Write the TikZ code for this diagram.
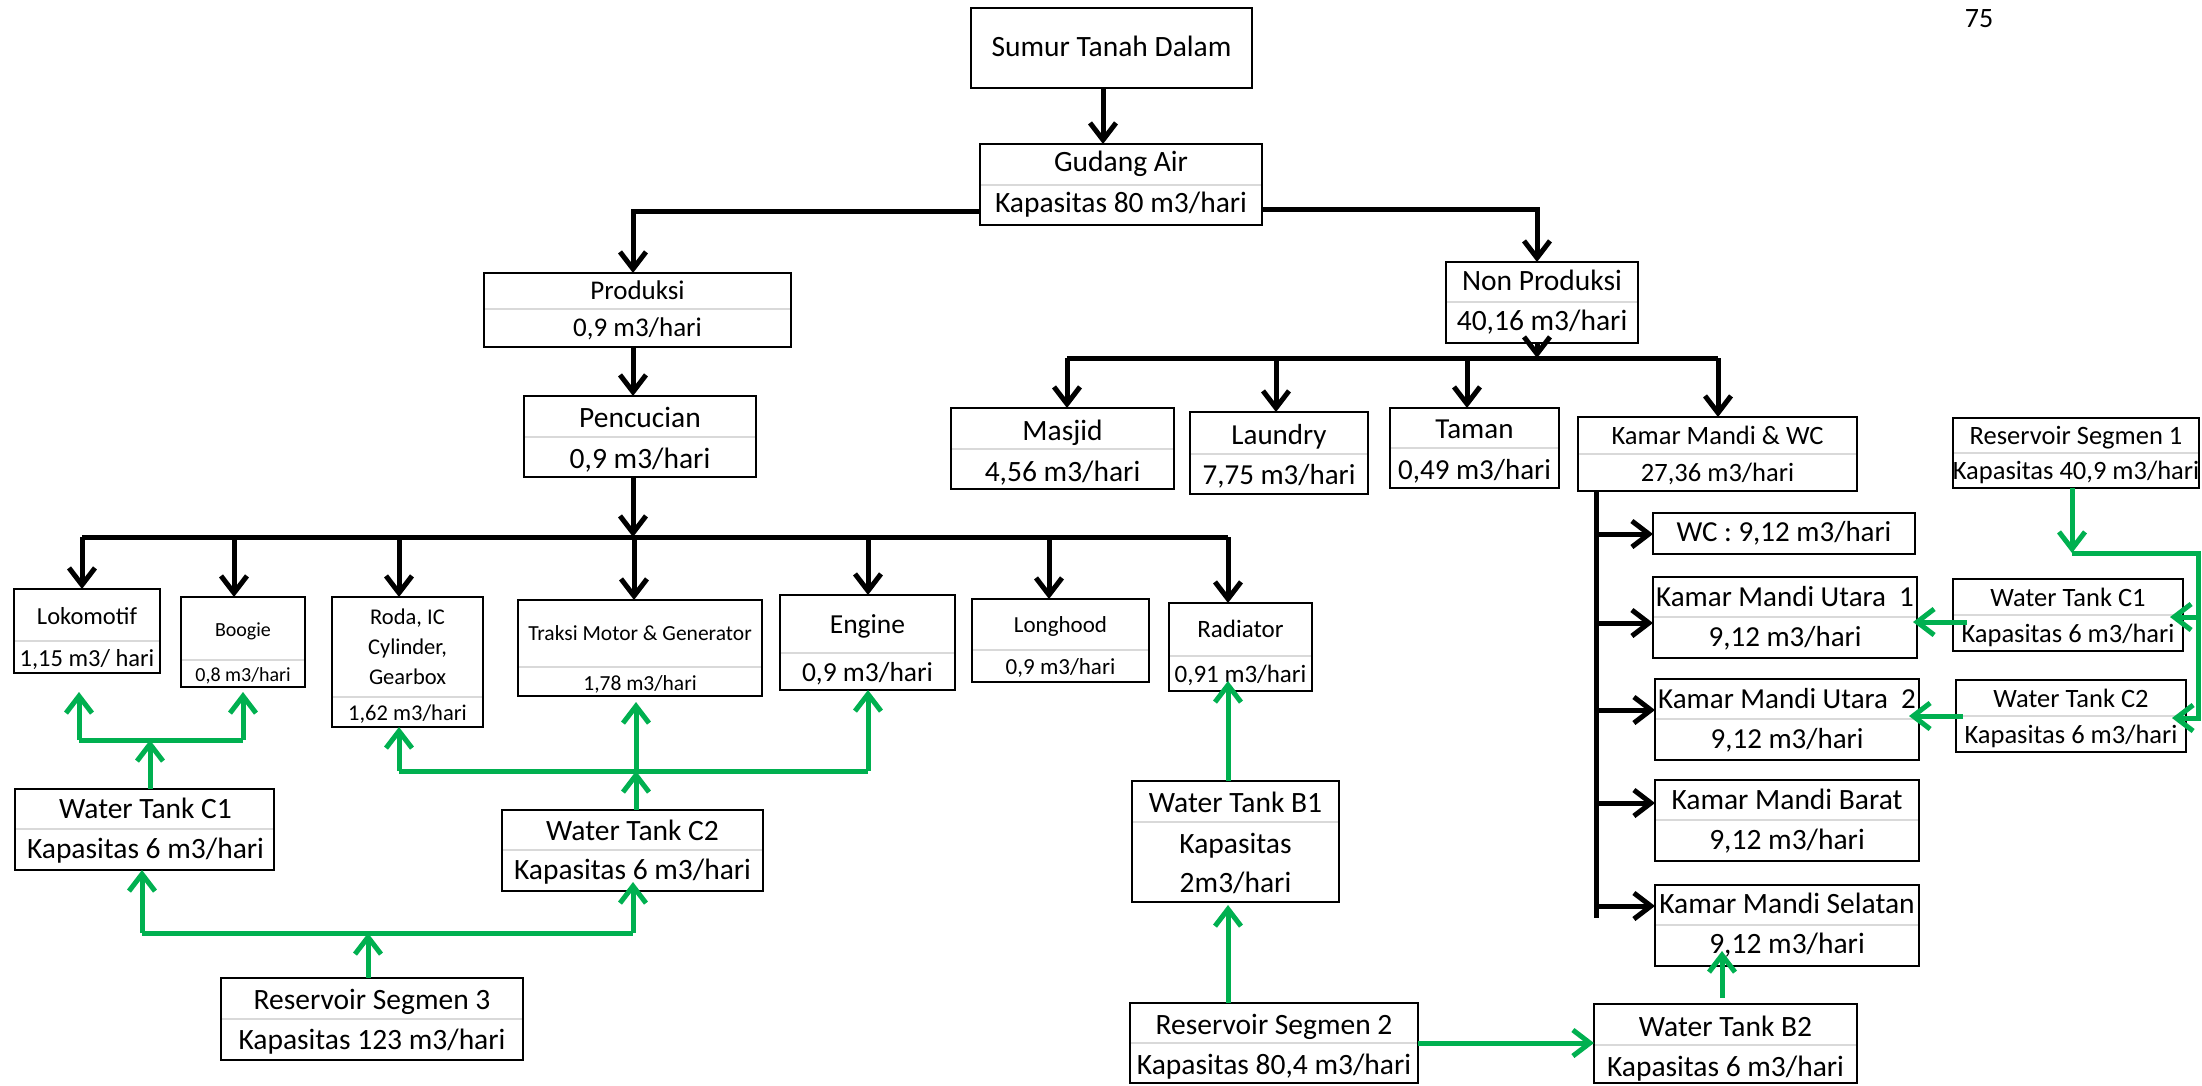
\documentclass[tikz,border=0pt]{standalone}
\usepackage{fontspec}
\setmainfont{Carlito}
\usetikzlibrary{arrows.meta}
\definecolor{grn}{RGB}{0,176,80}
\definecolor{divgray}{RGB}{217,217,217}
\tikzset{
 box/.style={draw=black, line width=2.8pt, fill=white, inner sep=0pt, outer sep=0pt},
 div/.style={draw=divgray, line width=2.6pt},
 txt/.style={anchor=base, inner sep=0pt, outer sep=0pt},
 ln/.style={draw=black, line width=5pt},
 arr/.style={ln, -{Straight Barb[length=17pt,width=26pt]}},
 gln/.style={draw=grn, line width=5pt},
 garr/.style={gln, -{Straight Barb[length=17pt,width=26pt]}},
}
\newcommand\bx[6]{%
 \node[box, minimum width={#4pt-#2pt}, minimum height={#5pt-#3pt}] (#1) at ({(#2+#4)/2},{(#3+#5)/2}) {};
 \ifx\relax#6\relax\else\draw[div] ({#2+1.4},#6) -- ({#4-1.4},#6);\fi}
\newcommand\tx[5]{\node[txt, font=\fontsize{#4pt}{#4pt}\selectfont] (#1) at (#2,{#3+0.3*#4}) {#5};}
\begin{document}
\begin{tikzpicture}[x=1pt,y=-1pt]
\useasboundingbox (0,0) rectangle (2202,1085);
\fill[white] (0,0) rectangle (2202,1085);
% boxes
\bx{sumur}{971}{8}{1252}{88}{}
\bx{gudang}{980}{144}{1262}{225}{185}
\bx{produksi}{484}{273}{791}{347}{309}
\bx{pencucian}{524}{396}{756}{477}{437}
\bx{nonprod}{1446}{262}{1638}{343}{302}
\bx{masjid}{951}{408}{1174}{489}{449}
\bx{laundry}{1190}{412}{1368}{494}{454}
\bx{taman}{1390}{408}{1559}{488}{448}
\bx{kmwc}{1578}{417}{1857}{491}{454}
\bx{rs1}{1953}{418}{2199}{488}{453}
\bx{wc}{1653}{513}{1915}{554}{}
\bx{kmu1}{1653}{577}{1917}{658}{617}
\bx{kmu2}{1655}{679}{1919}{760}{719}
\bx{kmbarat}{1655}{780}{1919}{861}{820}
\bx{kmselatan}{1655}{885}{1919}{966}{925}
\bx{wtc1r}{1953}{579}{2183}{651}{615}
\bx{wtc2r}{1956}{680}{2186}{752}{716}
\bx{loko}{14}{589}{160}{673}{641}
\bx{boogie}{181}{597}{305}{687}{660}
\bx{roda}{332}{597}{483}{727}{697}
\bx{traksi}{518}{600}{762}{696}{667}
\bx{engine}{780}{595}{955}{690}{653}
\bx{longhood}{972}{599}{1149}{682}{650}
\bx{radiator}{1169}{603}{1312}{691}{656}
\bx{wtc1l}{15}{789}{274}{870}{829}
\bx{wtc2l}{502}{810}{763}{891}{850}
\bx{rs3}{221}{978}{523}{1060}{1019}
\bx{wtb1}{1132}{781}{1339}{902}{822}
\bx{rs2}{1130}{1003}{1418}{1083}{1043}
\bx{wtb2}{1594}{1004}{1857}{1083}{1045}
% texts
\tx{pagenum}{1979}{19}{28}{75}
\tx{sumur-t}{1111.5}{48}{29.5}{Sumur Tanah Dalam}
\tx{gudang-t}{1121}{163}{29.5}{Gudang Air}
\tx{gudang-b}{1121}{204}{29.5}{Kapasitas 80 m3/hari}
\tx{produksi-t}{637.5}{291}{27}{Produksi}
\tx{produksi-b}{637.5}{328}{27}{0,9 m3/hari}
\tx{pencucian-t}{640}{419}{29.5}{Pencucian}
\tx{pencucian-b}{640}{460}{29.5}{0,9 m3/hari}
\tx{nonprod-t}{1542}{282}{29.5}{Non Produksi}
\tx{nonprod-b}{1542}{322}{29.5}{40,16 m3/hari}
\tx{masjid-t}{1062.5}{432}{29.5}{Masjid}
\tx{masjid-b}{1062.5}{473}{29.5}{4,56 m3/hari}
\tx{laundry-t}{1279}{436}{29}{Laundry}
\tx{laundry-b}{1279}{476}{29}{7,75 m3/hari}
\tx{taman-t}{1474.5}{430}{29}{Taman}
\tx{taman-b}{1474.5}{471}{29}{0,49 m3/hari}
\tx{kmwc-t}{1717.5}{437}{26.5}{Kamar Mandi \& WC}
\tx{kmwc-b}{1717.5}{474}{26.5}{27,36 m3/hari}
\tx{rs1-t}{2076}{437}{26.5}{Reservoir Segmen 1}
\tx{rs1-b}{2076}{472}{26.5}{Kapasitas 40,9 m3/hari}
\tx{wc-t}{1784}{533}{29}{WC : 9,12 m3/hari}
\tx{kmu1-t}{1785}{598}{29}{Kamar Mandi Utara\ \ 1}
\tx{kmu1-b}{1785}{638}{29}{9,12 m3/hari}
\tx{kmu2-t}{1787}{700}{29}{Kamar Mandi Utara\ \ 2}
\tx{kmu2-b}{1787}{740}{29}{9,12 m3/hari}
\tx{kmbarat-t}{1787}{801}{29.5}{Kamar Mandi Barat}
\tx{kmbarat-b}{1787}{841}{29.5}{9,12 m3/hari}
\tx{kmselatan-t}{1787}{905}{29.5}{Kamar Mandi Selatan}
\tx{kmselatan-b}{1787}{945}{29.5}{9,12 m3/hari}
\tx{wtc1r-t}{2068}{599}{26.5}{Water Tank C1}
\tx{wtc1r-b}{2068}{635}{26.5}{Kapasitas 6 m3/hari}
\tx{wtc2r-t}{2071}{700}{26.5}{Water Tank C2}
\tx{wtc2r-b}{2071}{736}{26.5}{Kapasitas 6 m3/hari}
\tx{loko-t}{87}{617}{24.5}{Lokomotif}
\tx{loko-b}{87}{659}{24.5}{1,15 m3/ hari}
\tx{boogie-t}{243}{630}{20}{Boogie}
\tx{boogie-b}{243}{675}{20}{0,8 m3/hari}
\node[font=\fontsize{22.5pt}{30pt}\selectfont, align=center, inner sep=0pt] (roda-t) at (407.5,647) {Roda, IC\\Cylinder,\\Gearbox};
\tx{roda-b}{407.5}{713.5}{22.5}{1,62 m3/hari}
\tx{traksi-t}{640}{634}{21.5}{Traksi Motor \& Generator}
\tx{traksi-b}{640}{684}{21.5}{1,78 m3/hari}
\tx{engine-t}{867.5}{625}{27.5}{Engine}
\tx{engine-b}{867.5}{673}{27.5}{0,9 m3/hari}
\tx{longhood-t}{1060.5}{626}{23}{Longhood}
\tx{longhood-b}{1060.5}{668}{23}{0,9 m3/hari}
\tx{radiator-t}{1240.5}{630}{25}{Radiator}
\tx{radiator-b}{1240.5}{675}{25}{0,91 m3/hari}
\tx{wtc1l-t}{145.5}{810}{29.5}{Water Tank C1}
\tx{wtc1l-b}{145.5}{850}{29.5}{Kapasitas 6 m3/hari}
\tx{wtc2l-t}{632.5}{832}{29.5}{Water Tank C2}
\tx{wtc2l-b}{632.5}{871}{29.5}{Kapasitas 6 m3/hari}
\tx{rs3-t}{372}{1001}{29.5}{Reservoir Segmen 3}
\tx{rs3-b}{372}{1041}{29.5}{Kapasitas 123 m3/hari}
\tx{wtb1-t}{1235.5}{804}{29.5}{Water Tank B1}
\node[font=\fontsize{29.5pt}{39pt}\selectfont, align=center, inner sep=0pt] (wtb1-b) at (1235.5,863.5) {Kapasitas\\2m3/hari};
\tx{rs2-t}{1274}{1026}{29.5}{Reservoir Segmen 2}
\tx{rs2-b}{1274}{1066}{29.5}{Kapasitas 80,4 m3/hari}
\tx{wtb2-t}{1725.5}{1028}{29.5}{Water Tank B2}
\tx{wtb2-b}{1725.5}{1068}{29.5}{Kapasitas 6 m3/hari}
% black connectors
\coordinate (csg) at (1103,0);
\draw[arr] (sumur.south -| csg) -- (gudang.north -| csg);
\coordinate (jgl) at (633,211);
\draw[arr] (gudang.west |- jgl) -- (jgl) -- (jgl |- produksi.north);
\coordinate (jgr) at (1537,209);
\draw[arr] (gudang.east |- jgr) -- (jgr) -- (jgr |- nonprod.north);
\draw[arr] (produksi.south -| jgl) -- (pencucian.north -| jgl);
\coordinate (jp) at (633,537);
\draw[arr] (pencucian.south -| jp) -- (jp);
\coordinate (bl) at (82,537);
\coordinate (br) at (1228,537);
\draw[ln] (bl) -- (br);
\coordinate (bbo) at (234,537);
\coordinate (brd) at (399,537);
\coordinate (btr) at (634,537);
\coordinate (ben) at (868,537);
\coordinate (blh) at (1049,537);
\draw[arr] (bl) -- (bl |- loko.north);
\draw[arr] (bbo) -- (bbo |- boogie.north);
\draw[arr] (brd) -- (brd |- roda.north);
\draw[arr] (btr) -- (btr |- traksi.north);
\draw[arr] (ben) -- (ben |- engine.north);
\draw[arr] (blh) -- (blh |- longhood.north);
\draw[arr] (br) -- (br |- radiator.north);
\coordinate (jn) at (1537,358);
\draw[arr] (nonprod.south -| jn) -- (jn);
\coordinate (nl) at (1067,358);
\coordinate (nr) at (1718,358);
\coordinate (nla) at (1276,358);
\coordinate (nta) at (1467,358);
\draw[ln] (nl) -- (nr);
\draw[arr] (nl) -- (nl |- masjid.north);
\draw[arr] (nla) -- (nla |- laundry.north);
\draw[arr] (nta) -- (nta |- taman.north);
\draw[arr] (nr) -- (nr |- kmwc.north);
\coordinate (kt) at (1596,918);
\draw[ln] (kmwc.south -| kt) -- (kt);
\coordinate (k0) at (1596,534);
\coordinate (k1) at (1596,623);
\coordinate (k2) at (1596,710);
\coordinate (k3) at (1596,803);
\coordinate (k4) at (1596,906);
\draw[arr] (k0) -- (k0 -| wc.west);
\draw[arr] (k1) -- (k1 -| kmu1.west);
\draw[arr] (k2) -- (k2 -| kmu2.west);
\draw[arr] (k3) -- (k3 -| kmbarat.west);
\draw[arr] (k4) -- (k4 -| kmselatan.west);
% green connectors
\coordinate (g1) at (150,740);
\coordinate (g1a) at (79,740);
\coordinate (g1b) at (243,740);
\draw[gln] (g1a) -- (g1b);
\draw[garr] (wtc1l.north -| g1) -- (g1);
\draw[garr, shorten >=19pt] (g1a) -- (g1a |- loko.south);
\draw[garr, shorten >=5pt] (g1b) -- (g1b |- boogie.south);
\coordinate (g2) at (636,771);
\coordinate (g2a) at (399,771);
\coordinate (g2b) at (868,771);
\draw[gln] (g2a) -- (g2b);
\draw[garr] (wtc2l.north -| g2) -- (g2);
\draw[garr, shorten >=6pt] (g2) -- (g2 |- traksi.south);
\draw[garr] (g2a) -- (g2a |- roda.south);
\draw[garr] (g2b) -- (g2b |- engine.south);
\coordinate (g3) at (368,933);
\coordinate (g3a) at (142,933);
\coordinate (g3b) at (633,933);
\draw[gln] (g3a) -- (g3b);
\draw[garr] (rs3.north -| g3) -- (g3);
\draw[garr] (g3a) -- (g3a |- wtc1l.south);
\draw[garr, shorten >=-9pt] (g3b) -- (g3b |- wtc2l.south);
\coordinate (gb) at (1228,0);
\draw[garr, shorten >=3pt] (rs2.north -| gb) -- (wtb1.south -| gb);
\draw[garr, shorten >=-10pt] (wtb1.north -| gb) -- (radiator.south -| gb);
\coordinate (gh) at (0,1043);
\draw[garr] (rs2.east |- gh) -- (wtb2.west |- gh);
\coordinate (gv) at (1722,0);
\draw[garr, shorten <=6pt, shorten >=-15pt] (wtb2.north -| gv) -- (kmselatan.south -| gv);
\coordinate (r1) at (2072,553);
\coordinate (r1c) at (2198,553);
\coordinate (r1d) at (2198,718);
\coordinate (r1e) at (2198,617);
\draw[garr] (rs1.south -| r1) -- (r1);
\draw[garr, shorten >=-14pt] (r1) -- (r1c) -- (r1d) -- (r1d -| wtc2r.east);
\draw[garr, shorten >=-13pt] (r1e) -- (r1e -| wtc1r.east);
\coordinate (w1) at (1967,622);
\coordinate (w2) at (1963,716);
\draw[garr, shorten >=-4pt] (w1) -- (w1 -| kmu1.east);
\draw[garr, shorten >=-10pt] (w2) -- (w2 -| kmu2.east);
\end{tikzpicture}
\end{document}
